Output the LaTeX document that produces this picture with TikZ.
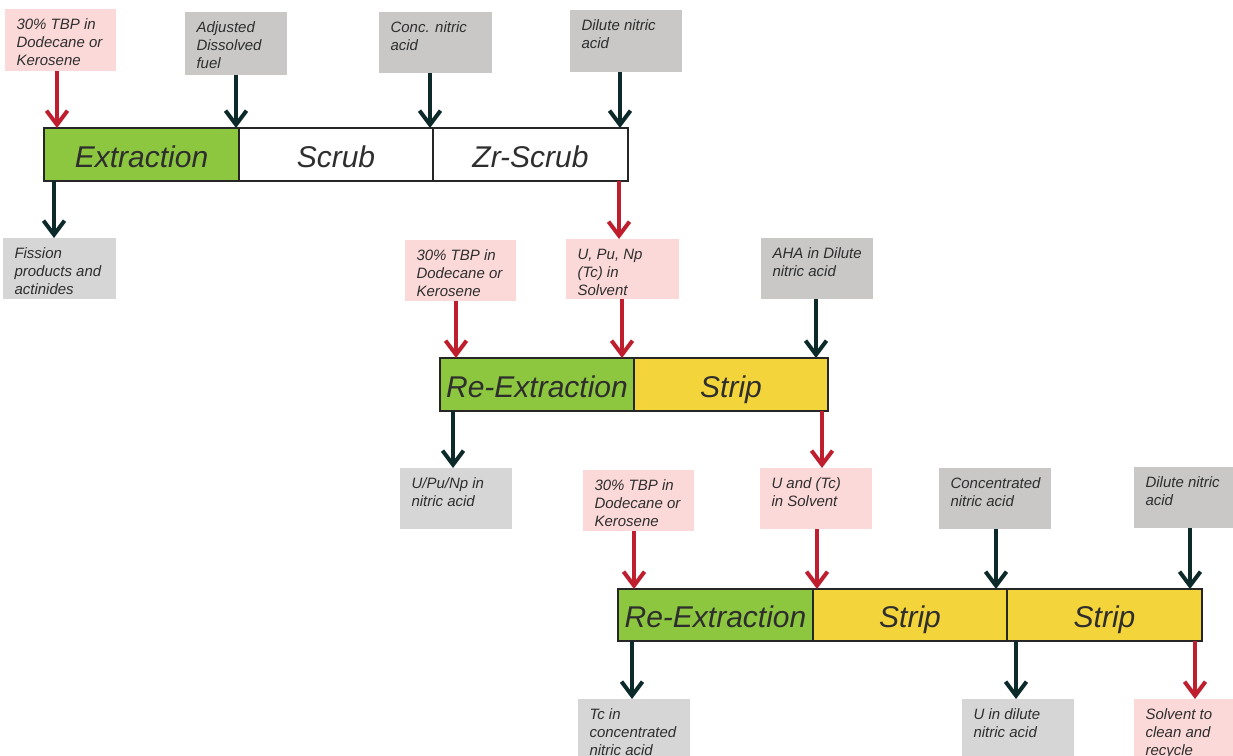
\documentclass[tikz,border=0pt]{standalone}
\usepackage{fontspec}
\setmainfont{Liberation Sans}
\usetikzlibrary{arrows.meta}
\definecolor{pinkbg}{HTML}{FCD9D9}
\definecolor{graybg}{HTML}{C9C8C7}
\definecolor{lgraybg}{HTML}{D6D6D6}
\definecolor{grn}{HTML}{8DC63F}
\definecolor{yel}{HTML}{F4D43B}
\definecolor{redar}{HTML}{BE1E2D}
\definecolor{darkar}{HTML}{0D2A2B}
\definecolor{txtc}{HTML}{2E2E2E}
\newcommand{\mkbox}[7]{%
  \node[#2, minimum width={#5-#3}, minimum height={#6-#4}, anchor=north west] (#1) at (#3,#4) {};
  \node[smalltxt, anchor=base west] (#1-t) at ([xshift=11.5,yshift=-20]#1.north west) {\parbox[t]{150pt}{\raggedright #7}};
}
\tikzset{
  box/.style={inner sep=0, outer sep=0, draw=none},
  pinkbox/.style={box, fill=pinkbg},
  graybox/.style={box, fill=graybg},
  lgraybox/.style={box, fill=lgraybg},
  smalltxt/.style={inner sep=0, outer sep=0, text=txtc, font=\fontsize{15}{18}\selectfont\itshape},
  cell/.style={draw=black!85, line width=1.2pt, inner sep=0, outer sep=0, minimum height=53, text height=27, text depth=2, anchor=north west, text=txtc, font=\fontsize{30}{36}\selectfont\itshape},
  redarrow/.style={draw=redar, line width=4pt, -{Straight Barb[length=14pt,width=21pt]}},
  darkarrow/.style={draw=darkar, line width=4pt, -{Straight Barb[length=14pt,width=21pt]}},
}
\begin{document}
\begin{tikzpicture}[x=1pt,y=-1pt]
\useasboundingbox (0,0) rectangle (1233,755);
% ---- row 1 bar
\node[cell, fill=grn, minimum width=195] (ext) at (44,128) {Extraction};
\node[cell, fill=white, minimum width=194] (scr) at (239,128) {Scrub};
\node[cell, fill=white, minimum width=195] (zr) at (433,128) {Zr-Scrub};
% ---- row 2 bar
\node[cell, fill=grn, minimum width=194] (rex1) at (440,358) {Re-Extraction};
\node[cell, fill=yel, minimum width=194] (str1) at (634,358) {Strip};
% ---- row 3 bar
\node[cell, fill=grn, minimum width=195, minimum height=52] (rex2) at (618,589) {Re-Extraction};
\node[cell, fill=yel, minimum width=194, minimum height=52] (str2) at (813,589) {Strip};
\node[cell, fill=yel, minimum width=195, minimum height=52] (str3) at (1007,589) {Strip};
% ---- boxes
\mkbox{tbp1}{pinkbox}{5}{9}{116}{71}{30\% TBP in\\Dodecane or\\Kerosene}
\mkbox{adj}{graybox}{185}{12}{287}{75}{Adjusted\\Dissolved\\fuel}
\mkbox{conc}{graybox}{379}{12}{492}{73}{Conc. nitric\\acid}
\mkbox{dil1}{graybox}{570}{10}{682}{72}{Dilute nitric\\acid}
\mkbox{fis}{lgraybox}{3}{238}{116}{299}{Fission\\products and\\actinides}
\mkbox{upn}{pinkbox}{566}{239}{679}{299}{U, Pu, Np\\(Tc) in\\Solvent}
\mkbox{tbp2}{pinkbox}{405}{240}{516}{301}{30\% TBP in\\Dodecane or\\Kerosene}
\mkbox{aha}{graybox}{761}{238}{873}{299}{AHA in Dilute\\nitric acid}
\mkbox{upnacid}{lgraybox}{400}{468}{512}{529}{U/Pu/Np in\\nitric acid}
\mkbox{utc}{pinkbox}{760}{468}{872}{529}{U and (Tc)\\in Solvent}
\mkbox{tbp3}{pinkbox}{583}{470}{694}{531}{30\% TBP in\\Dodecane or\\Kerosene}
\mkbox{concn}{graybox}{939}{468}{1051}{529}{Concentrated\\nitric acid}
\mkbox{dil2}{graybox}{1134}{467}{1233}{528}{Dilute nitric\\acid}
\mkbox{tcn}{lgraybox}{578}{699}{690}{760}{Tc in\\concentrated\\nitric acid}
\mkbox{udil}{lgraybox}{962}{699}{1074}{760}{U in dilute\\nitric acid}
\mkbox{solv}{pinkbox}{1134}{699}{1233}{760}{Solvent to\\clean and\\recycle}
% ---- arrow x positions
\coordinate (x1) at (57,0);   \coordinate (x2) at (236,0);
\coordinate (x3) at (430,0);  \coordinate (x4) at (620,0);
\coordinate (x5) at (54,0);   \coordinate (x6) at (619,0);
\coordinate (x7) at (456,0);  \coordinate (x8) at (622,0);
\coordinate (x9) at (816,0);  \coordinate (x10) at (453,0);
\coordinate (x11) at (822,0); \coordinate (x12) at (634,0);
\coordinate (x13) at (817,0); \coordinate (x14) at (996,0);
\coordinate (x15) at (1190,0);\coordinate (x16) at (632,0);
\coordinate (x17) at (1016,0);\coordinate (x18) at (1195,0);
% ---- row 1 arrows
\draw[redarrow] (tbp1.south -| x1) -- (ext.north -| x1);
\draw[darkarrow] (adj.south -| x2) -- (ext.north -| x2);
\draw[darkarrow] (conc.south -| x3) -- (zr.north -| x3);
\draw[darkarrow] (dil1.south -| x4) -- (zr.north -| x4);
\draw[darkarrow] (ext.south -| x5) -- (fis.north -| x5);
\draw[redarrow] (zr.south -| x6) -- (upn.north -| x6);
% ---- row 2 arrows
\draw[redarrow] (tbp2.south -| x7) -- (rex1.north -| x7);
\draw[redarrow] (upn.south -| x8) -- (rex1.north -| x8);
\draw[darkarrow] (aha.south -| x9) -- (str1.north -| x9);
\draw[darkarrow] (rex1.south -| x10) -- (upnacid.north -| x10);
\draw[redarrow] (str1.south -| x11) -- (utc.north -| x11);
% ---- row 3 arrows
\draw[redarrow] (tbp3.south -| x12) -- (rex2.north -| x12);
\draw[redarrow] (utc.south -| x13) -- (rex2.north -| x13);
\draw[darkarrow] (concn.south -| x14) -- (str2.north -| x14);
\draw[darkarrow] (dil2.south -| x15) -- (str3.north -| x15);
\draw[darkarrow] (rex2.south -| x16) -- (tcn.north -| x16);
\draw[darkarrow] (str3.south -| x17) -- (udil.north -| x17);
\draw[redarrow] (str3.south -| x18) -- (solv.north -| x18);
\end{tikzpicture}
\end{document}
